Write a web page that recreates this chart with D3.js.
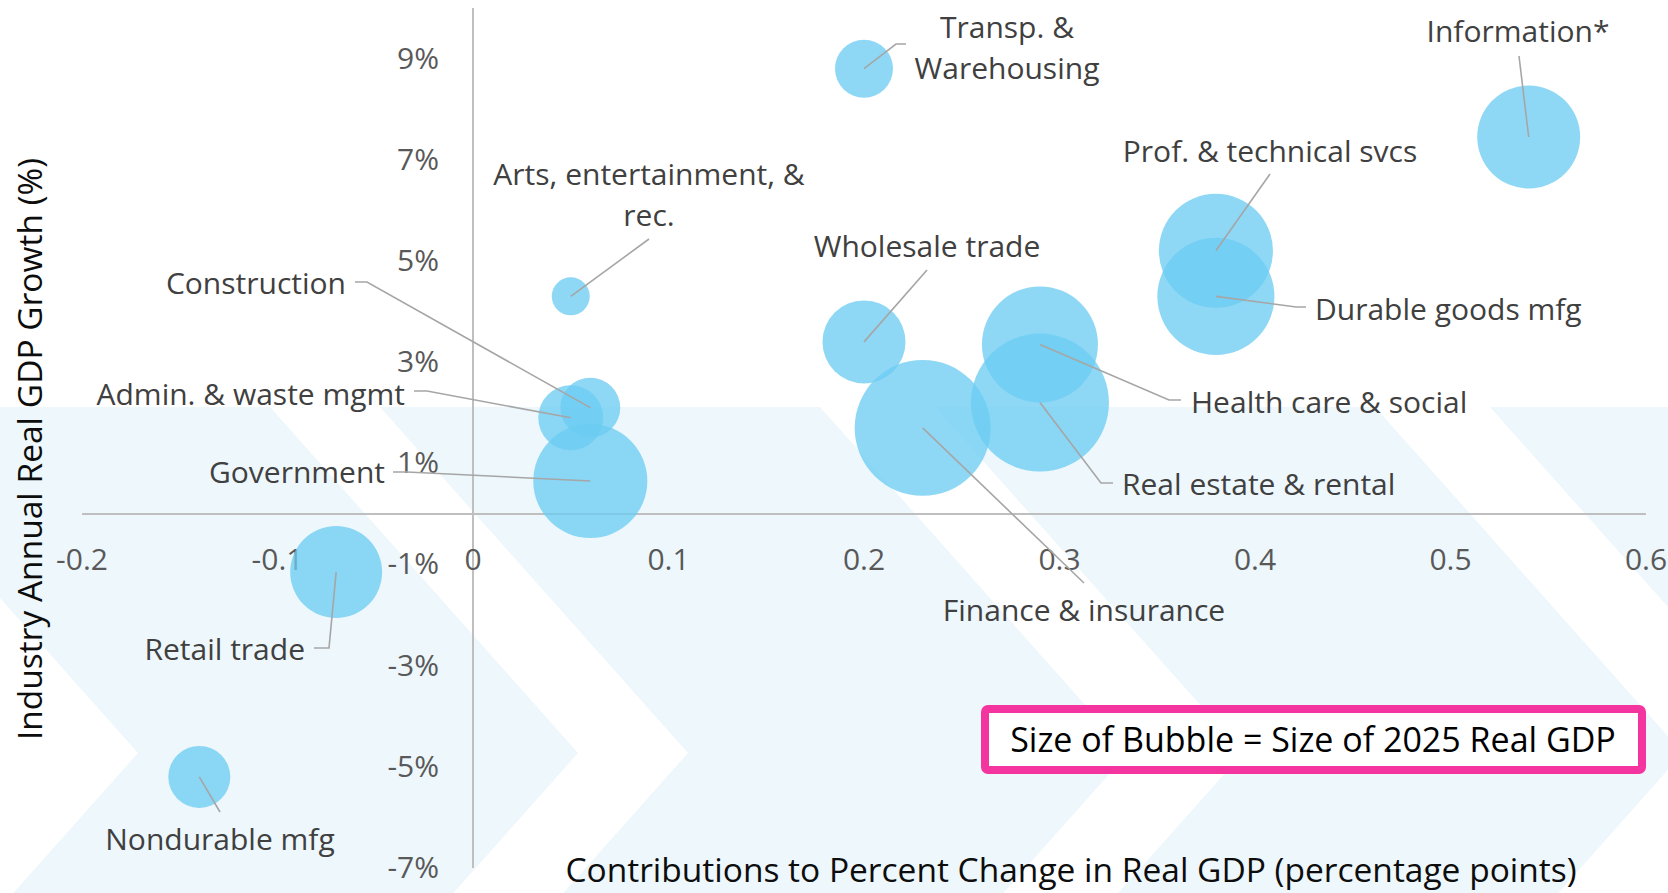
<!DOCTYPE html>
<html>
<head>
<meta charset="utf-8">
<script src="https://cdn.jsdelivr.net/npm/d3@7"></script>
<style>
  body { margin: 0; background: #fff; }
  svg { display: block; font-family: "Open Sans", "Noto Sans", sans-serif; }
</style>
</head>
<body>
<div id="chart"></div>
<script>
// industry data (x = contribution to % change in real GDP, y = industry growth %, size = 2025 real GDP, $bn approx)
const industries = [
  "Real estate & rental", "Finance & insurance", "Government", "Durable goods mfg",
  "Health care & social", "Prof. & technical svcs", "Information*", "Retail trade",
  "Wholesale trade", "Admin. & waste mgmt", "Nondurable mfg", "Construction",
  "Transp. & Warehousing", "Arts, entertainment, & rec."
];
const contribution = [0.29, 0.23, 0.06, 0.38, 0.29, 0.38, 0.54, -0.07, 0.20, 0.05, -0.14, 0.06, 0.20, 0.05];
const growth = [2.2, 1.7, 0.65, 4.3, 3.35, 5.2, 7.45, -1.15, 3.4, 1.9, -5.2, 2.1, 8.8, 4.3];
const gdp2025 = [3000, 2910, 2050, 2160, 2120, 2050, 1670, 1330, 1085, 665, 605, 565, 530, 227];

const xTicks = [-0.2, -0.1, 0, 0.1, 0.2, 0.3, 0.4, 0.5, 0.6];
const yTicks = [-7, -5, -3, -1, 1, 3, 5, 7, 9];

const xTitle = "Contributions to Percent Change in Real GDP (percentage points)";
const yTitle = "Industry Annual Real GDP Growth (%)";
const note = "Size of Bubble = Size of 2025 Real GDP";

// where each data label sits, and the bend points of its leader line
const labelLayout = {
  "Information*": { lines: ["Information*"], anchor: "middle", x: 1518, y: 32, leader: [[1519, 56]] },
  "Prof. & technical svcs": { lines: ["Prof. & technical svcs"], anchor: "middle", x: 1270, y: 152, leader: [[1270, 174]] },
  "Durable goods mfg": { lines: ["Durable goods mfg"], anchor: "start", x: 1315, y: 310, leader: [[1296, 307], [1306, 307]] },
  "Health care & social": { lines: ["Health care & social"], anchor: "start", x: 1191, y: 403, leader: [[1169, 400], [1181, 400]] },
  "Real estate & rental": { lines: ["Real estate & rental"], anchor: "start", x: 1122, y: 485, leader: [[1101, 483], [1113, 483]] },
  "Finance & insurance": { lines: ["Finance & insurance"], anchor: "middle", x: 1084, y: 611, leader: [[1084, 583]] },
  "Wholesale trade": { lines: ["Wholesale trade"], anchor: "middle", x: 927, y: 247, leader: [[927, 270]] },
  "Transp. & Warehousing": { lines: ["Transp. &", "Warehousing"], anchor: "middle", x: 1007, y: 28, leader: [[896, 44], [906, 44]] },
  "Arts, entertainment, & rec.": { lines: ["Arts, entertainment, &", "rec."], anchor: "middle", x: 649, y: 175, leader: [[649, 239]] },
  "Construction": { lines: ["Construction"], anchor: "end", x: 346, y: 284, leader: [[367, 282], [355, 282]] },
  "Admin. & waste mgmt": { lines: ["Admin. & waste mgmt"], anchor: "end", x: 405, y: 395, leader: [[427, 391], [414, 391]] },
  "Government": { lines: ["Government"], anchor: "end", x: 385, y: 473, leader: [[407, 472], [393, 472]] },
  "Retail trade": { lines: ["Retail trade"], anchor: "end", x: 305, y: 650, leader: [[329, 648], [314, 648]] },
  "Nondurable mfg": { lines: ["Nondurable mfg"], anchor: "middle", x: 220, y: 840, leader: [[220, 812]] }
};

const width = 1668, height = 893;
const fontSize = 30;
const titleSize = 33.5;

const svg = d3.select("#chart").append("svg")
  .attr("width", width)
  .attr("height", height);

svg.append("rect").attr("width", width).attr("height", height).attr("fill", "#fff");

// background chevrons (slide decoration)
const chevTop = 407, chevApex = 753, chevThick = 440, chevSlant = 308;
const chevStarts = [-170, 380, 935, 1490];
svg.append("g").selectAll("polygon")
  .data(chevStarts)
  .enter()
  .append("polygon")
  .attr("points", x0 => {
    let yb = chevApex + (chevApex - chevTop);
    return [[x0, chevTop], [x0 + chevThick, chevTop], [x0 + chevThick + chevSlant, chevApex],
      [x0 + chevThick, yb], [x0, yb], [x0 + chevSlant, chevApex]].map(p => p.join(",")).join(" ");
  })
  .attr("fill", "#edf7fc");

const x = d3.scaleLinear().domain([-0.2, 0.6]).range([82, 1646]);
const y = d3.scaleLinear().domain([-7, 10]).range([868, 8]);
const r = d3.scaleSqrt().domain([0, 3000]).range([0, 69]);

// axes cross at zero
svg.append("line")
  .attr("x1", x(-0.2)).attr("x2", x(0.6))
  .attr("y1", y(0)).attr("y2", y(0))
  .attr("stroke", "#bfbfbf").attr("stroke-width", 2);
svg.append("line")
  .attr("x1", x(0)).attr("x2", x(0))
  .attr("y1", y(10)).attr("y2", y(-7))
  .attr("stroke", "#bfbfbf").attr("stroke-width", 2);

svg.append("g").selectAll("text")
  .data(xTicks)
  .enter()
  .append("text")
  .attr("x", d => x(d))
  .attr("y", y(0) + 46 + 10)
  .attr("text-anchor", "middle")
  .attr("font-size", fontSize)
  .attr("fill", "#595959")
  .text(d => d === 0 ? "0" : d.toFixed(1));

svg.append("g").selectAll("text")
  .data(yTicks)
  .enter()
  .append("text")
  .attr("x", x(0) - 34)
  .attr("y", d => y(d) + 10)
  .attr("text-anchor", "end")
  .attr("font-size", fontSize)
  .attr("fill", "#595959")
  .text(d => d + "%");

// bubbles
let rows = industries.map((name, i) => ({
  name: name,
  cx: x(contribution[i]),
  cy: y(growth[i]),
  r: r(gdp2025[i])
}));

svg.append("g").selectAll("circle")
  .data(rows)
  .enter()
  .append("circle")
  .attr("cx", d => d.cx)
  .attr("cy", d => d.cy)
  .attr("r", d => d.r)
  .attr("fill", "rgb(106,204,242)")
  .attr("fill-opacity", 0.76);

// leader lines
svg.append("g").selectAll("polyline")
  .data(rows)
  .enter()
  .append("polyline")
  .attr("points", d => [[d.cx, d.cy]].concat(labelLayout[d.name].leader).map(p => p.join(",")).join(" "))
  .attr("fill", "none")
  .attr("stroke", "#a6a6a6")
  .attr("stroke-width", 1.6);

// data labels
let labels = svg.append("g").selectAll("text")
  .data(rows)
  .enter()
  .append("text")
  .attr("text-anchor", d => labelLayout[d.name].anchor)
  .attr("font-size", fontSize)
  .attr("fill", "#404040");

labels.selectAll("tspan")
  .data(d => labelLayout[d.name].lines.map((t, k) => ({ t: t, k: k, lay: labelLayout[d.name] })))
  .enter()
  .append("tspan")
  .attr("x", d => d.lay.x)
  .attr("y", d => d.lay.y + 10 + d.k * 41)
  .text(d => d.t);

// axis titles
svg.append("text")
  .attr("transform", "translate(42," + 449 + ") rotate(-90)")
  .attr("text-anchor", "middle")
  .attr("font-size", titleSize)
  .attr("fill", "#0d0d0d")
  .text(yTitle);

svg.append("text")
  .attr("x", 1071)
  .attr("y", 882)
  .attr("text-anchor", "middle")
  .attr("font-size", titleSize)
  .attr("fill", "#0d0d0d")
  .text(xTitle);

// size note
svg.append("rect")
  .attr("x", 985).attr("y", 709)
  .attr("width", 657).attr("height", 61)
  .attr("rx", 3)
  .attr("fill", "#fff")
  .attr("stroke", "#f435a0")
  .attr("stroke-width", 8);

svg.append("text")
  .attr("x", 1313)
  .attr("y", 752)
  .attr("text-anchor", "middle")
  .attr("font-size", 34)
  .attr("fill", "#000")
  .text(note);
</script>
</body>
</html>
